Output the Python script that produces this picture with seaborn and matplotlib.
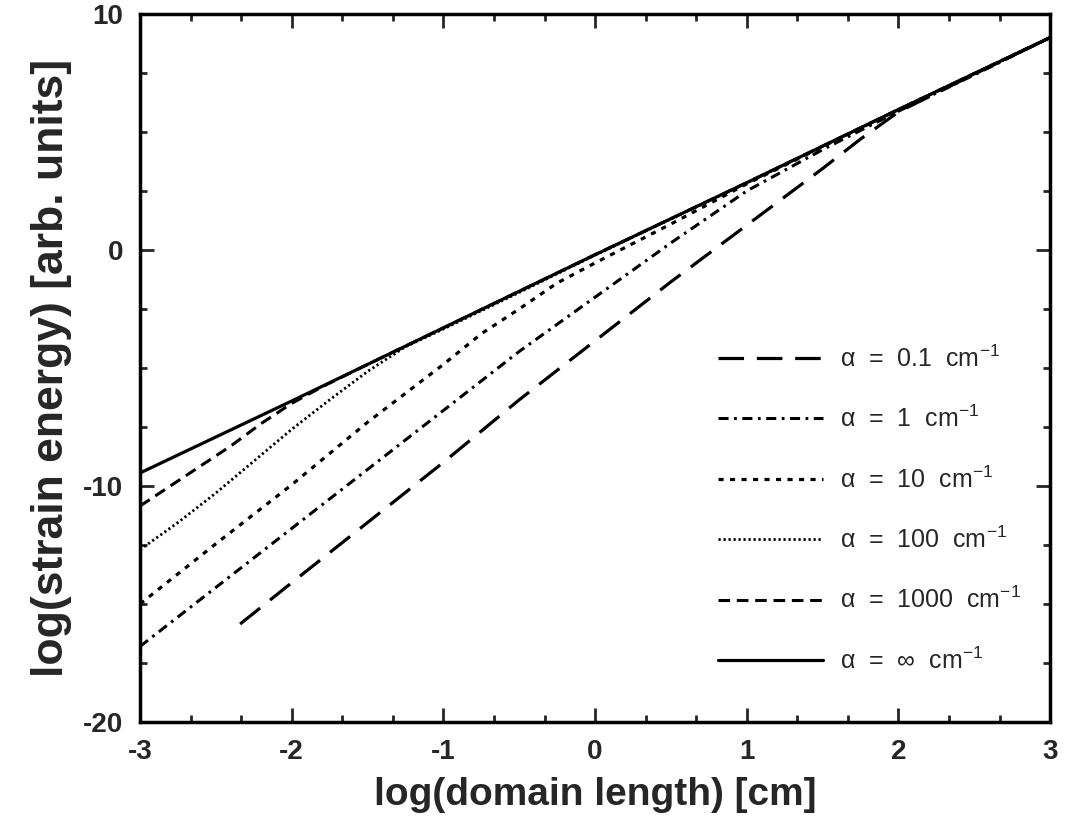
import matplotlib
matplotlib.use("Agg")
import matplotlib.pyplot as plt
import seaborn as sns
import pandas as pd

# ---- data ----
series_names = ["0.1", "1", "10", "100", "1000", "inf"]
legend_labels = [r"α  =  0.1  cm$^{-1}$", r"α  =  1  cm$^{-1}$", r"α  =  10  cm$^{-1}$",
                 r"α  =  100  cm$^{-1}$", r"α  =  1000  cm$^{-1}$", r"α  =  ∞  cm$^{-1}$"]

x_a01 = [-2.34, -2, -1.5, -1, -0.5, 0, 0.5, 1, 1.25, 1.5, 1.75, 2, 2.25, 2.5, 3]
y_a01 = [-15.85, -14.1, -11.55, -9.0, -6.35, -3.85, -1.35, 1.05, 2.25, 3.45, 4.7, 5.85, 6.65, 7.45, 9.0]

x_a1 = [-3, -2.5, -2, -1.5, -1, -0.5, 0, 0.25, 0.5, 0.75, 1, 1.5, 2, 2.5, 3]
y_a1 = [-16.8, -14.3, -11.8, -9.3, -6.8, -4.3, -2.0, -0.85, 0.3, 1.4, 2.5, 4.25, 5.88, 7.42, 9.0]

x_a10 = [-3, -2.5, -2, -1.5, -1, -0.75, -0.5, -0.25, 0, 0.5, 1, 2, 3]
y_a10 = [-15.0, -12.45, -9.95, -7.3, -4.85, -3.55, -2.5, -1.4, -0.55, 1.1, 2.8, 5.95, 9.0]

x_a100 = [-3, -2.75, -2.5, -2.25, -2, -1.75, -1.5, -1.25, -1, -0.5, 0, 1, 2, 3]
y_a100 = [-12.7, -11.55, -10.3, -8.95, -7.6, -6.35, -5.15, -4.1, -3.35, -1.8, -0.22, 2.85, 5.95, 9.0]

x_a1000 = [-3, -2.8, -2.6, -2.4, -2.2, -2.0, -1.8, -1.5, -1, 0, 1, 2, 3]
y_a1000 = [-10.85, -10.0, -9.15, -8.3, -7.35, -6.5, -5.8, -4.85, -3.3, -0.2, 2.85, 5.95, 9.0]

x_inf = [-3, -2, -1, 0, 1, 2, 3]
y_inf = [-9.45, -6.4, -3.3, -0.2, 2.85, 5.95, 9.0]

x_ticks = [-3, -2, -1, 0, 1, 2, 3]
y_ticks = [-20, -10, 0, 10]

# ---- build long-form table ----
xs = [x_a01, x_a1, x_a10, x_a100, x_a1000, x_inf]
ys = [y_a01, y_a1, y_a10, y_a100, y_a1000, y_inf]
frames = []
for name, xv, yv in zip(series_names, xs, ys):
    frames.append(pd.DataFrame({"logL": xv, "logE": yv, "alpha": name}))
df = pd.concat(frames, ignore_index=True)

sns.set_theme(style="ticks")
plt.rcParams["font.family"] = ["Liberation Sans", "DejaVu Sans"]
plt.rcParams["mathtext.fontset"] = "custom"
plt.rcParams["mathtext.rm"] = "Liberation Sans"
plt.rcParams["mathtext.it"] = "Liberation Sans"
plt.rcParams["axes.unicode_minus"] = False

fig = plt.figure(figsize=(10.72, 8.22), dpi=100)
ax = fig.add_axes([0.1306, 0.1217, 0.849, 0.8613])

dashes = {"0.1": (8, 4), "1": (3.3, 1.8, 0.9, 1.8), "10": (1.6, 2.0),
          "100": (0.8, 1.0), "1000": (3.8, 2.2), "inf": ""}
palette = {n: "black" for n in series_names}

sns.lineplot(data=df, x="logL", y="logE", hue="alpha", style="alpha",
             hue_order=series_names, style_order=series_names,
             palette=palette, dashes=dashes, sort=False, estimator=None,
             legend=False, ax=ax)

widths = [2.3, 2.2, 2.3, 2.0, 2.2, 2.3]
for line, w in zip(ax.lines, widths):
    line.set_linewidth(w)
    line.set_dash_capstyle("butt")

ax.set_xlim(-3, 3)
ax.set_ylim(-20, 10)
ax.set_xticks(x_ticks)
ax.set_yticks(y_ticks)
ax.set_xticks([v / 3 for v in range(-9, 10)], minor=True)
ax.set_yticks([-20 + 2.5 * i for i in range(13)], minor=True)
ax.tick_params(which="both", direction="in", top=True, right=True, width=2)
ax.tick_params(which="major", length=10, labelsize=20, pad=12)
ax.tick_params(which="minor", length=5)
for lab in ax.get_xticklabels() + ax.get_yticklabels():
    lab.set_fontweight("bold")
for sp in ax.spines.values():
    sp.set_linewidth(2.5)
    sp.set_color("black")

ax.set_xlabel("log(domain length) [cm]", fontsize=28, fontweight="bold", labelpad=9)
ax.set_ylabel("log(strain energy) [arb. units]", fontsize=32, fontweight="bold", labelpad=8)

leg = ax.legend(ax.lines, legend_labels, loc="upper left",
                bbox_to_anchor=(0.635, 0.532), frameon=False, fontsize=18,
                handlelength=4.2, handletextpad=0.7, labelspacing=1.36,
                borderpad=0, borderaxespad=0)

fig.savefig("out.png", dpi=100)
